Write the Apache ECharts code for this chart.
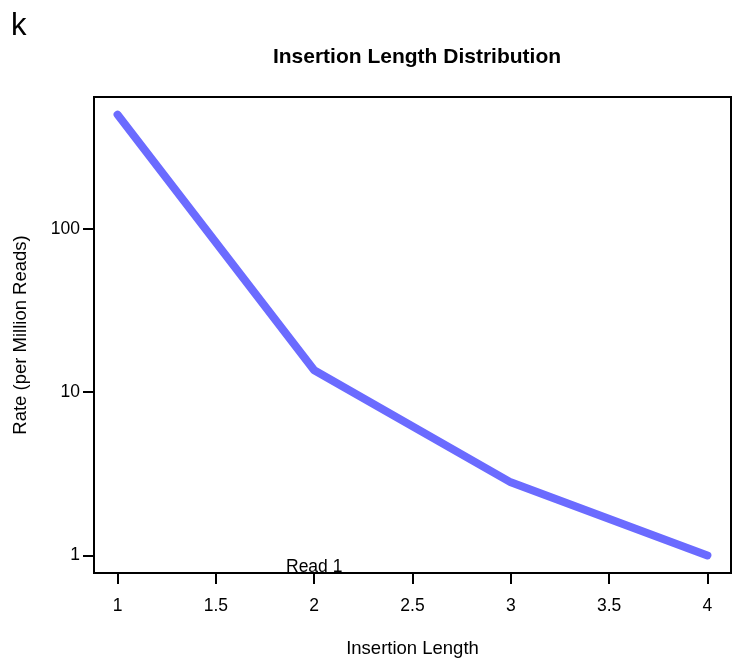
<!DOCTYPE html>
<html>
<head>
<meta charset="utf-8">
<script src="https://cdn.jsdelivr.net/npm/echarts@6/dist/echarts.min.js"></script>
<style>
html,body{margin:0;padding:0;background:#fff;}
#chart{width:733px;height:660px;}
</style>
</head>
<body>
<div id="chart"></div>
<script>
// Data
var insertionLength = [1, 2, 3, 4];
var rateRead1 = [500, 13.6, 2.8, 1.0];
var xTicks = [1, 1.5, 2, 2.5, 3, 3.5, 4];
var yTicks = [1, 10, 100];
var seriesName = 'Read 1';

var FONT = 'Liberation Sans, Arial, sans-serif';
var FS = 17.5;
var FS_NAME = 18.5;
var chart = echarts.init(document.getElementById('chart'), null, {renderer: 'canvas'});

var option = {
  backgroundColor: '#ffffff',
  animation: false,
  title: [
    {
      text: 'Insertion Length Distribution',
      left: 412, top: 42, textAlign: 'center',
      textStyle: {fontFamily: FONT, fontSize: 21, fontWeight: 'bold', color: '#000'}
    },
    {
      text: 'k',
      left: 6, top: 6,
      textStyle: {fontFamily: FONT, fontSize: 31, fontWeight: 'normal', color: '#000'}
    }
  ],
  grid: {
    left: 94, right: 2, top: 97, bottom: 87,
    containLabel: false,
    outerBoundsMode: 'none',
    show: true, borderColor: '#000', borderWidth: 2, backgroundColor: 'transparent'
  },
  xAxis: {
    type: 'value',
    min: 0.88, max: 4.12,
    name: 'Insertion Length',
    nameLocation: 'middle',
    nameGap: 66,
    nameTextStyle: {fontFamily: FONT, fontSize: FS_NAME, color: '#000'},
    axisLine: {show: false},
    axisTick: {show: true, length: 11, inside: false, customValues: xTicks, lineStyle: {color: '#000', width: 2}},
    axisLabel: {customValues: xTicks, margin: 24, fontFamily: FONT, fontSize: FS, color: '#000',
      formatter: function (v) { return String(v); }},
    splitLine: {show: false}
  },
  yAxis: {
    type: 'log',
    logBase: 10,
    min: 0.78, max: 641,
    name: 'Rate (per Million Reads)',
    nameLocation: 'middle',
    nameGap: 64,
    nameRotate: 90,
    nameTextStyle: {fontFamily: FONT, fontSize: FS_NAME, color: '#000'},
    axisLine: {show: false},
    axisTick: {show: true, length: 11, inside: false, customValues: yTicks, lineStyle: {color: '#000', width: 2}},
    axisLabel: {customValues: yTicks, margin: 14, fontFamily: FONT, fontSize: FS, color: '#000',
      formatter: function (v) { return String(Math.round(v)); }},
    splitLine: {show: false},
    minorTick: {show: false}
  },
  series: [
    {
      name: seriesName,
      type: 'line',
      data: insertionLength.map(function (x, i) { return [x, rateRead1[i]]; }),
      showSymbol: false,
      symbol: 'none',
      lineStyle: {color: '#6b6bff', width: 8, cap: 'round', join: 'round'},
      itemStyle: {color: '#6b6bff'}
    }
  ],
  graphic: [
    {
      type: 'text',
      left: 286, top: 558,
      style: {text: seriesName, font: FS + 'px ' + FONT, fill: '#000'}
    }
  ]
};
chart.setOption(option);
</script>
</body>
</html>
